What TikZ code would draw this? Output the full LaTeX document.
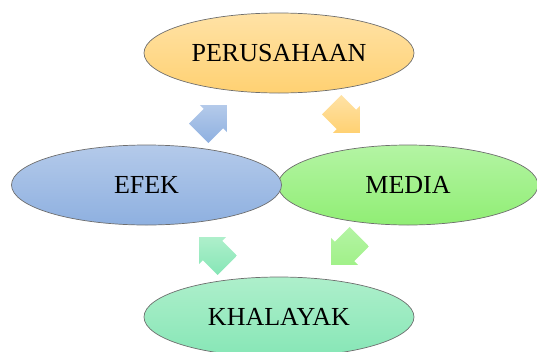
\documentclass[tikz,border=0pt]{standalone}
\usepackage{fontspec}
\setmainfont{Liberation Serif}
\usetikzlibrary{shapes.geometric,shapes.arrows}
\definecolor{edge}{HTML}{6E6E6E}
\definecolor{orangeTop}{HTML}{FFE2A6}
\definecolor{orangeBot}{HTML}{FFD172}
\definecolor{blueTop}{HTML}{B4CAEA}
\definecolor{blueBot}{HTML}{8EB0E0}
\definecolor{greenTop}{HTML}{B4F4A4}
\definecolor{greenBot}{HTML}{90EE74}
\definecolor{tealTop}{HTML}{AEEFCB}
\definecolor{tealBot}{HTML}{86E6B6}
\tikzset{
  base/.style={font=\fontsize{26}{30}\selectfont, text=black},
  oval/.style={base, ellipse, draw=edge, line width=0.7pt, minimum width=270pt, minimum height=80pt, inner sep=0pt},
  blockarrow/.style={single arrow, draw=none, minimum height=40pt, inner xsep=0pt, inner ysep=13.5pt, single arrow head extend=5.5pt, single arrow tip angle=90},
}
\begin{document}
\begin{tikzpicture}[x=1pt,y=-1pt]
  \useasboundingbox (0,0) rectangle (537,351);

  \node[oval,top color=orangeTop,bottom color=orangeBot] (perusahaan) at (279,53) {PERUSAHAAN};
  \node[oval,minimum width=260pt,top color=greenTop,bottom color=greenBot] (media) at (408,185) {MEDIA};
  \node[oval,top color=blueTop,bottom color=blueBot] (efek) at (146.5,185) {EFEK};
  \node[oval,top color=tealTop,bottom color=tealBot] (khalayak) at (279,317) {KHALAYAK};

  \node[blockarrow,rotate=45,shading angle=-45,top color=blueTop,bottom color=blueBot] (efekToPer) at (208,124) {};
  \node[blockarrow,rotate=-45,shading angle=45,top color=orangeTop,bottom color=orangeBot] (perToMed) at (341,114) {};
  \node[blockarrow,rotate=-135,shading angle=135,top color=greenTop,bottom color=greenBot!85!white] (medToKha) at (350,246) {};
  \node[blockarrow,rotate=135,shading angle=-135,top color=tealTop,bottom color=tealBot] (khaToEfek) at (218,256) {};
\end{tikzpicture}
\end{document}
